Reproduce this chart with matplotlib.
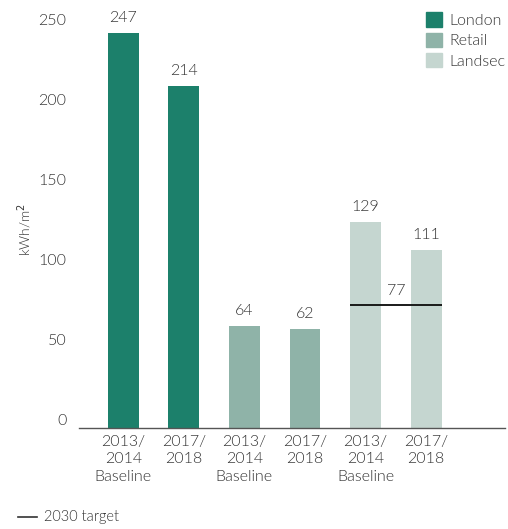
import matplotlib.pyplot as plt
from matplotlib.patches import Patch
from matplotlib.lines import Line2D

# energy intensity by portfolio
portfolios = ["London", "London", "Retail", "Retail", "Landsec", "Landsec"]
periods = ["2013/\n2014\nBaseline", "2017/\n2018", "2013/\n2014\nBaseline", "2017/\n2018",
           "2013/\n2014\nBaseline", "2017/\n2018"]
values = [247, 214, 64, 62, 129, 111]
target_2030 = 77

colours = {"London": "#1c806b", "Retail": "#8fb3a8", "Landsec": "#c5d6d0"}
text_col = "#333333"
fs = 11.5

plt.rcParams['font.family'] = ['Lato', 'DejaVu Sans']
plt.rcParams['font.weight'] = 300

fig = plt.figure(figsize=(5.08, 5.29), dpi=100)
ax = fig.add_axes([79 / 508, 1 - 428 / 529, 426 / 508, 400 / 529])

x = list(range(len(values)))
bars = ax.bar(x, values, width=0.51, color=[colours[p] for p in portfolios], zorder=2)

for xi, v in zip(x, values):
    ax.text(xi, v + 5, str(v), ha='center', va='bottom', fontsize=fs, color=text_col)

# 2030 target across the Landsec bars
ax.hlines(target_2030, 4 - 0.255, 5 + 0.255, color="#1a1a1a", lw=1.4, zorder=3)
ax.text(4.5, target_2030 + 4, str(target_2030), ha='center', va='bottom', fontsize=fs, color=text_col)

ax.set_xlim(-0.73, 6.3)
ax.set_ylim(0, 250)
ax.set_yticks([0, 50, 100, 150, 200, 250])
ax.set_xticks(x)
ax.set_xticklabels(periods, fontsize=fs, color=text_col, linespacing=1.3)
ax.tick_params(axis='both', length=0, labelsize=fs, labelcolor=text_col)
ax.tick_params(axis='y', pad=9)
ax.tick_params(axis='x', pad=5)
for lbl in ax.get_yticklabels():
    lbl.set_verticalalignment('bottom')

for s in ['top', 'right', 'left']:
    ax.spines[s].set_visible(False)
ax.spines['bottom'].set_color("#555555")
ax.spines['bottom'].set_linewidth(1.0)

fig.text(25 / 508, 1 - 230 / 529, "kWh/m$^2$", rotation=90, fontsize=10,
         color=text_col, ha='center', va='center')

handles = [Patch(color=colours[k]) for k in ["London", "Retail", "Landsec"]]
leg = ax.legend(handles, ["London", "Retail", "Landsec"], loc='upper right',
                bbox_to_anchor=(1.035, 1.075), frameon=False, fontsize=fs,
                handlelength=1.0, handleheight=1.0, handletextpad=0.45,
                labelspacing=0.3, labelcolor=text_col)

fig.add_artist(Line2D([18 / 508, 37 / 508], [1 - 517 / 529] * 2, color="#333333", lw=1.2))
fig.text(44 / 508, 1 - 517 / 529, "2030 target", fontsize=10.5, color=text_col, va='center')

fig.savefig("out.png", dpi=100)
